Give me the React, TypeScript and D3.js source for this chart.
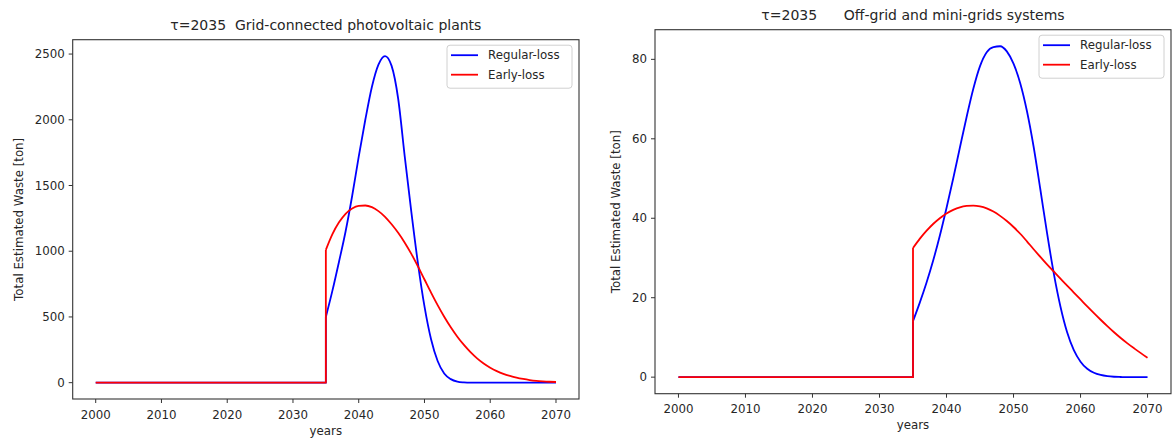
import React from "react";
import * as d3 from "d3";

// yearly axis; losses only start at tau = 2035
const yearStart = 2000;
const yearEnd = 2070;
const tau = 2035;
const lossYears = d3.range(tau, yearEnd + 1);
const xTicks = [2000, 2010, 2020, 2030, 2040, 2050, 2060, 2070];

// Grid-connected photovoltaic plants, 2035..2070 [ton]
const gridRegular = [
  500, 700, 920, 1150, 1420, 1720, 2000, 2250, 2420, 2485, 2410, 2160, 1720, 1300, 910, 580,
  330, 165, 70, 27, 8, 2, 0, 0, 0, 0, 0, 0, 0, 0, 0, 0, 0, 0, 0, 0,
];
const gridEarly = [
  1010, 1130, 1220, 1285, 1325, 1345, 1348, 1335, 1305, 1262, 1205, 1140, 1065, 980, 885, 785,
  685, 590, 502, 422, 350, 287, 232, 185, 146, 114, 88, 67, 51, 38, 28, 20, 14, 10, 7, 5,
];
const gridTicks = [0, 500, 1000, 1500, 2000, 2500];

// Off-grid and mini-grids systems, 2035..2070 [ton]
const offRegular = [
  14.1, 18.7, 23.7, 29.3, 35.6, 42.6, 50.0, 57.8, 65.5, 72.6, 78.3, 81.8, 83.1, 83.3, 82.0, 78.9,
  74.0, 67.0, 58.0, 47.3, 36.3, 26.2, 17.8, 11.3, 6.8, 3.9, 2.1, 1.1, 0.55, 0.25, 0.1, 0.04, 0, 0,
  0, 0,
];
const offEarly = [
  32.5, 34.8, 36.8, 38.55, 40.0, 41.2, 42.1, 42.75, 43.1, 43.2, 43.0, 42.5, 41.7, 40.6, 39.3, 37.8,
  36.1, 34.2, 32.2, 30.3, 28.4, 26.6, 24.8, 23.05, 21.3, 19.55, 17.8, 16.1, 14.45, 12.85, 11.3,
  9.85, 8.5, 7.25, 6.05, 4.9,
];
const offTicks = [0, 20, 40, 60, 80];

const seriesNames = ["Regular-loss", "Early-loss"];
const seriesColors = ["#0000ff", "#ff0000"];

const FONT = "DejaVu Sans, sans-serif";
const TICK_SIZE = 11.8;
const TEXT = "#262626";

interface PanelProps {
  title: string;
  box: { left: number; top: number; right: number; bottom: number };
  regular: number[];
  early: number[];
  yTicks: number[];
}

const Panel: React.FC<PanelProps> = ({ title, box, regular, early, yTicks }) => {
  const { left, top, right, bottom } = box;
  const xPad = (yearEnd - yearStart) * 0.05;
  const x = d3.scaleLinear().domain([yearStart - xPad, yearEnd + xPad]).range([left, right]);
  const yMax = d3.max([...regular, ...early]) as number;
  const yPad = yMax * 0.05;
  const y = d3.scaleLinear().domain([-yPad, yMax + yPad]).range([bottom, top]);

  const flat = d3.line<[number, number]>().x(d => x(d[0])).y(d => y(d[1]));
  const smooth = d3
    .line<number>()
    .x((_, i) => x(lossYears[i]))
    .y(d => y(d))
    .curve(d3.curveMonotoneX);

  const series = [regular, early];
  const legW = 125;
  const legX = right - 7 - legW;
  const legY = top + 5.5;

  // ylabel sits just left of the widest tick label
  const tickW = d3.max(yTicks, t => String(t).length * 0.636 * TICK_SIZE) as number;
  const ylabelX = left - 8 - tickW - 16;

  return (
    <g>
      <text
        x={(left + right) / 2}
        y={top - 10}
        textAnchor="middle"
        fontSize={14}
        fill={TEXT}
        style={{ whiteSpace: "pre" }}
      >
        {title}
      </text>

      {series.map((vals, k) => (
        <g key={k} fill="none" stroke={seriesColors[k]} strokeWidth={1.8} strokeLinejoin="round">
          <path
            d={flat([
              [yearStart, 0],
              [tau, 0],
              [tau, vals[0]],
            ]) || ""}
          />
          <path d={smooth(vals) || ""} />
        </g>
      ))}

      <rect
        x={left}
        y={top}
        width={right - left}
        height={bottom - top}
        fill="none"
        stroke="#333"
        strokeWidth={1.1}
      />

      {xTicks.map(t => (
        <g key={t} transform={`translate(${x(t)},${bottom})`}>
          <line y2={4} stroke="#333" strokeWidth={1} />
          <text y={19.5} textAnchor="middle" fontSize={TICK_SIZE} fill={TEXT}>
            {t}
          </text>
        </g>
      ))}
      {yTicks.map(t => (
        <g key={t} transform={`translate(${left},${y(t)})`}>
          <line x2={-4} stroke="#333" strokeWidth={1} />
          <text x={-8} dy="0.35em" textAnchor="end" fontSize={TICK_SIZE} fill={TEXT}>
            {t}
          </text>
        </g>
      ))}

      <text x={(left + right) / 2} y={bottom + 35.5} textAnchor="middle" fontSize={TICK_SIZE} fill={TEXT}>
        years
      </text>
      <text
        transform={`translate(${ylabelX},${(top + bottom) / 2}) rotate(-90)`}
        textAnchor="middle"
        dy="0.35em"
        fontSize={TICK_SIZE}
        fill={TEXT}
      >
        Total Estimated Waste [ton]
      </text>

      <rect
        x={legX}
        y={legY}
        width={legW}
        height={43}
        rx={3}
        fill="#fff"
        fillOpacity={0.8}
        stroke="#d0d0d0"
        strokeWidth={1}
      />
      {seriesNames.map((name, k) => (
        <g key={name} transform={`translate(${legX},${legY + 10 + k * 19.5})`}>
          <line x1={4} x2={31} stroke={seriesColors[k]} strokeWidth={1.8} />
          <text x={41} dy="0.35em" fontSize={TICK_SIZE} fill={TEXT}>
            {name}
          </text>
        </g>
      ))}
    </g>
  );
};

export default function App() {
  return (
    <svg
      width={1172}
      height={441}
      style={{ position: "absolute", left: 0, top: 0, background: "#fff" }}
      fontFamily={FONT}
    >
      <Panel
        title="τ=2035  Grid-connected photovoltaic plants"
        box={{ left: 72.7, top: 39.7, right: 579, bottom: 399 }}
        regular={gridRegular}
        early={gridEarly}
        yTicks={gridTicks}
      />
      <Panel
        title="τ=2035      Off-grid and mini-grids systems"
        box={{ left: 655, top: 29.7, right: 1171, bottom: 393.7 }}
        regular={offRegular}
        early={offEarly}
        yTicks={offTicks}
      />
    </svg>
  );
}
